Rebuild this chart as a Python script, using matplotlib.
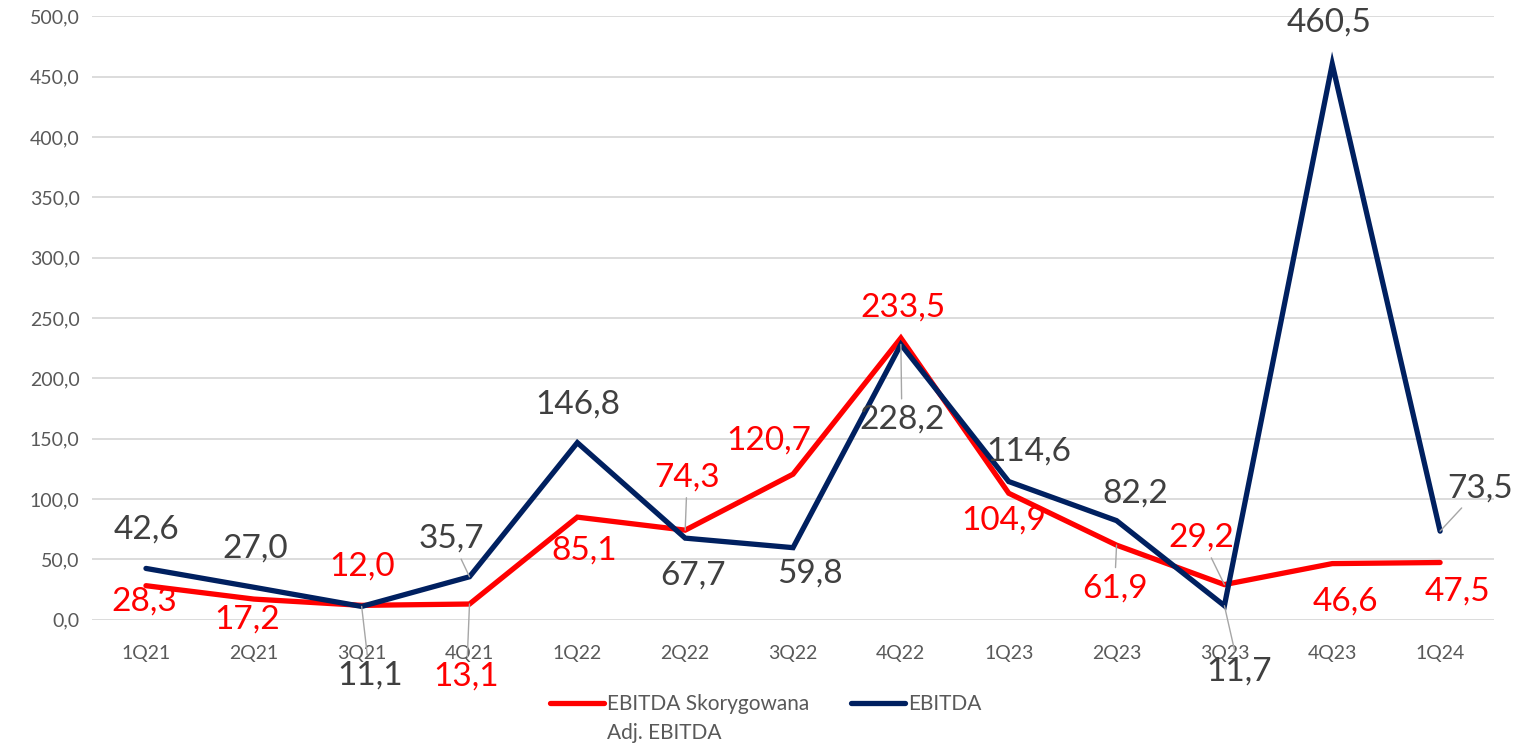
import matplotlib.pyplot as plt

plt.rcParams['font.family'] = ['Lato', 'DejaVu Sans']

# quarters and values
quarters = ['1Q21', '2Q21', '3Q21', '4Q21', '1Q22', '2Q22', '3Q22',
            '4Q22', '1Q23', '2Q23', '3Q23', '4Q23', '1Q24']
ebitda_adj = [28.3, 17.2, 12.0, 13.1, 85.1, 74.3, 120.7,
              233.5, 104.9, 61.9, 29.2, 46.6, 47.5]
ebitda = [42.6, 27.0, 11.1, 35.7, 146.8, 67.7, 59.8,
          228.2, 114.6, 82.2, 11.7, 460.5, 73.5]
y_ticks = [0, 50, 100, 150, 200, 250, 300, 350, 400, 450, 500]

RED = '#FF0000'
NAVY = '#002060'
LABEL_GREY = '#404040'
TICK_GREY = '#595959'

# label offsets (pixels) and which labels get a leader line
off_blue = [(1, 39), (1, 39), (8, -69), (-18, 38), (0, 38), (8, -37), (17, -26),
            (1, -75), (20, 30), (19, 27), (15, -66), (-3, 42), (40, 43)]
off_red = [(-2, -16), (-7, -20), (0, 39), (-3, -73), (7, -33), (2, 53), (-24, 34),
           (2, 30), (-5, -27), (-2, -43), (-23, 47), (13, -38), (17, -29)]
lead_blue = {2, 3, 7, 10, 12}
lead_red = {3, 5, 9, 10}

fig = plt.figure(figsize=(15.14, 7.45), dpi=100)
ax = fig.add_axes([0.0608, 0.168, 0.926, 0.810])

x = list(range(len(quarters)))
ax.plot(x, ebitda_adj, color=RED, lw=3.8, solid_capstyle='round',
        solid_joinstyle='miter', label='EBITDA Skorygowana', zorder=3)
ax.plot(x, ebitda, color=NAVY, lw=3.8, solid_capstyle='round',
        solid_joinstyle='miter', label='EBITDA', zorder=4)


def fmt(v):
    return f'{v:.1f}'.replace('.', ',')


def put_labels(vals, offs, leads, color):
    for i, v in enumerate(vals):
        arrow = None
        if i in leads:
            arrow = dict(arrowstyle='-', color='#A6A6A6', lw=1.0,
                         shrinkA=2, shrinkB=0)
        ax.annotate(fmt(v), (i, v), xytext=offs[i], textcoords='offset pixels',
                    ha='center', va='center', fontsize=24, color=color,
                    arrowprops=arrow, zorder=5)


put_labels(ebitda, off_blue, lead_blue, LABEL_GREY)
put_labels(ebitda_adj, off_red, lead_red, RED)

ax.set_xlim(-0.5, len(quarters) - 0.5)
ax.set_ylim(0, 500)
ax.set_xticks(x)
ax.set_xticklabels(quarters)
ax.set_yticks(y_ticks)
ax.set_yticklabels([fmt(t) for t in y_ticks])
ax.tick_params(axis='both', length=0, colors=TICK_GREY, labelsize=14)
ax.tick_params(axis='x', pad=18)
ax.tick_params(axis='y', pad=9)
ax.grid(axis='y', color='#D9D9D9', lw=1.3)
ax.set_axisbelow(True)
for s in ax.spines.values():
    s.set_visible(False)
ax.patch.set_alpha(0)

leg = fig.legend(loc='center left', bbox_to_anchor=(0.3633, 0.055), ncol=2,
                 frameon=False, fontsize=15, labelcolor=TICK_GREY,
                 handlelength=2.6, handletextpad=0.15, columnspacing=2.0,
                 borderpad=0, borderaxespad=0)
for h in leg.legend_handles:
    h.set_solid_capstyle('round')
# second line of the adjusted EBITDA legend entry
adj_line = plt.Annotation('Adj. EBITDA', xy=(0, 0.5), xycoords=leg.get_texts()[0],
                          xytext=(0, -29), textcoords='offset pixels',
                          ha='left', va='center', fontsize=15, color=TICK_GREY)
adj_line.set_zorder(10)
fig.add_artist(adj_line)

fig.savefig('out.png', dpi=100)
